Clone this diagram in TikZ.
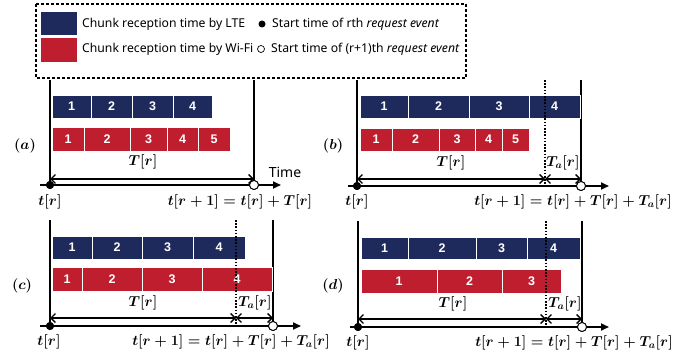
\documentclass[tikz,border=0pt]{standalone}
\usepackage[no-math]{fontspec}
\setmainfont{Noto Sans}
\newfontfamily\chunkfont{Liberation Sans}
\usetikzlibrary{arrows.meta}
\definecolor{ltecol}{HTML}{1F2A5C}
\definecolor{wificol}{HTML}{BE1E2D}
\newcommand\mychunk[7]{\node[chunkbox,#6,minimum width={(#3-#2)*1pt},minimum height={(#5-#4)*1pt}] (#1) at ({(#2+#3)/2},{(#4+#5)/2}) {#7};}
\begin{document}
\begin{tikzpicture}[x=1pt,y=-1pt,
  chunkbox/.style={draw=white,line width=0.7pt,inner sep=0pt,outer sep=0pt,text=white,font=\chunkfont\bfseries\fontsize{12.5}{14}\selectfont},
  lte/.style={fill=ltecol},
  wifi/.style={fill=wificol},
  vline/.style={line width=2.4pt},
  axisline/.style={line width=1.8pt,-{Triangle[length=8pt,width=7pt]}},
  dbl/.style={line width=1.3pt,{Straight Barb[length=4.5pt,width=9pt,line width=1.3pt]}-{Straight Barb[length=4.5pt,width=9pt,line width=1.3pt]}},
  dotline/.style={line width=1.6pt,dash pattern=on 1.6pt off 1.6pt},
  sdot/.style={circle,fill=black,inner sep=0pt,minimum size=8pt},
  edot/.style={circle,draw=black,fill=white,line width=0.9pt,inner sep=0pt,minimum size=9pt},
  mlab/.style={font=\boldmath\fontsize{14.2}{16}\selectfont,inner sep=0pt},
  legtext/.style={anchor=west,inner sep=0pt,font=\fontsize{12.2}{15}\selectfont}]
\useasboundingbox (0,0) rectangle (685,358);
% legend
\draw[line width=1.2pt,dash pattern=on 3pt off 2pt] (36,4) rectangle (466,78);
\node[fill=ltecol,minimum width=36pt,minimum height=23pt,inner sep=0pt] (lsw1) at (59,23.5) {};
\node[fill=wificol,minimum width=36pt,minimum height=24pt,inner sep=0pt] (lsw2) at (59,50) {};
\node[legtext] (lt1) at (82,24) {Chunk reception time by LTE};
\node[legtext] (lt2) at (82,49) {Chunk reception time by Wi-Fi};
\node[sdot,minimum size=7pt] (ld1) at (262,24) {};
\node[edot,minimum size=7pt,line width=0.7pt] (ld2) at (261,49) {};
\node[legtext] (lt3) at (272,24) {Start time of rth \textit{request event}};
\node[legtext] (lt4) at (271,49) {Start time of (r+1)th \textit{request event}};

% ===== panel (a)
\node[mlab] (la) at (25,146) {$(a)$};
\coordinate (aL) at (50,80); \coordinate (aR) at (254,80);
\node[sdot] (as) at (50,185) {}; \node[edot] (ae) at (254,185) {};
\coordinate (aax0) at (40,185); \coordinate (aax1) at (281,185);
\draw[vline] (aL) -- (as.center);
\draw[vline] (aR) -- (ae.center);
\foreach \a/\b/\n in {52/91/1,91/132/2,132/173/3,173/212/4}{\mychunk{ab\n}{\a}{\b}{95}{118}{lte}{\n}}
\foreach \a/\b/\n in {52/84/1,84/130/2,130/167/3,167/198/4,198/230/5}{\mychunk{aw\n}{\a}{\b}{127}{151}{wifi}{\n}}
\coordinate (ad0) at (50,179); \coordinate (ad1) at (254,179);
\draw[dbl] (ad0) -- (ad1);
\draw[axisline] (aax0) -- (aax1);
\node[sdot] at (as) {}; \node[edot] at (ae) {};
\node[mlab] (aT) at (143,162) {$T[r]$};
\node[inner sep=0pt,font=\fontsize{14}{16}\selectfont] (atime) at (285,172) {Time};
\node[mlab] (atr) at (50,202) {$t[r]$};
\node[mlab] (aeq) at (240,202) {$t[r+1]=t[r]+T[r]$};

% ===== panel (b)
\node[mlab] (lb) at (333,146) {$(b)$};
\coordinate (bL) at (357,80); \coordinate (bR) at (581,80); \coordinate (bD) at (545,80);
\node[sdot] (bs) at (357,186) {}; \node[edot] (be) at (581,186) {};
\coordinate (bDb) at (545,186);
\coordinate (bax0) at (348,186); \coordinate (bax1) at (609,186);
\draw[vline] (bL) -- (bs.center);
\draw[vline] (bR) -- (be.center);
\foreach \a/\b/\n in {360/408/1,408/469/2,469/529/3,529/580/4}{\mychunk{bb\n}{\a}{\b}{95}{118}{lte}{\n}}
\foreach \a/\b/\n in {360/392/1,392/439/2,439/475/3,475/502/4,502/529/5}{\mychunk{bw\n}{\a}{\b}{128}{151}{wifi}{\n}}
\draw[dotline] (bD) -- (bDb);
\coordinate (bd0) at (357,179); \coordinate (bd1) at (545,179); \coordinate (bd2) at (581,179);
\draw[dbl] (bd0) -- (bd1);
\draw[dbl] (bd1) -- (bd2);
\draw[axisline] (bax0) -- (bax1);
\node[sdot] at (bs) {}; \node[edot] at (be) {};
\node[mlab] (bT) at (451,163) {$T[r]$};
\node[mlab] (bTa) at (563,163) {$T_a[r]$};
\node[mlab] (btr) at (357,202) {$t[r]$};
\node[mlab] (beq) at (573,202) {$t[r+1]=t[r]+T[r]+T_a[r]$};

% ===== panel (c)
\node[mlab] (lc) at (22,286) {$(c)$};
\coordinate (cL) at (50,220); \coordinate (cR) at (273,220); \coordinate (cD) at (236,220);
\node[sdot] (cs) at (50,326) {}; \node[edot] (ce) at (273,326) {};
\coordinate (cDb) at (236,326);
\coordinate (cax0) at (40,326); \coordinate (cax1) at (301,326);
\draw[vline] (cL) -- (cs.center);
\draw[vline] (cR) -- (ce.center);
\foreach \a/\b/\n in {52/92/1,92/142/2,142/193/3,193/245/4}{\mychunk{cb\n}{\a}{\b}{236}{259}{lte}{\n}}
\foreach \a/\b/\n in {52/82/1,82/142/2,142/202/3,202/272/4}{\mychunk{cw\n}{\a}{\b}{267}{291}{wifi}{\n}}
\draw[dotline] (cD) -- (cDb);
\coordinate (cd0) at (50,318); \coordinate (cd1) at (236,318); \coordinate (cd2) at (273,318);
\draw[dbl] (cd0) -- (cd1);
\draw[dbl] (cd1) -- (cd2);
\draw[axisline] (cax0) -- (cax1);
\node[sdot] at (cs) {}; \node[edot] at (ce) {};
\node[mlab] (cT) at (143,303) {$T[r]$};
\node[mlab] (cTa) at (255,303) {$T_a[r]$};
\node[mlab] (ctr) at (49,342) {$t[r]$};
\node[mlab] (ceq) at (231,342) {$t[r+1]=t[r]+T[r]+T_a[r]$};

% ===== panel (d)
\node[mlab] (ld) at (333,286) {$(d)$};
\coordinate (dL) at (358,221); \coordinate (dR) at (582,221); \coordinate (dD) at (546,221);
\node[sdot] (ds) at (358,327) {}; \node[edot] (de) at (582,327) {};
\coordinate (dDb) at (546,327);
\coordinate (dax0) at (350,327); \coordinate (dax1) at (609,327);
\draw[vline] (dL) -- (ds.center);
\draw[vline] (dR) -- (de.center);
\foreach \a/\b/\n in {361/408/1,408/476/2,476/527/3,527/580/4}{\mychunk{db\n}{\a}{\b}{237}{259}{lte}{\n}}
\foreach \a/\b/\n in {361/437/1,437/502/2,502/561/3}{\mychunk{dw\n}{\a}{\b}{269}{293}{wifi}{\n}}
\draw[dotline] (dD) -- (dDb);
\coordinate (dd0) at (358,319); \coordinate (dd1) at (546,319); \coordinate (dd2) at (582,319);
\draw[dbl] (dd0) -- (dd1);
\draw[dbl] (dd1) -- (dd2);
\draw[axisline] (dax0) -- (dax1);
\node[sdot] at (ds) {}; \node[edot] at (de) {};
\node[mlab] (dT) at (453,304) {$T[r]$};
\node[mlab] (dTa) at (565,304) {$T_a[r]$};
\node[mlab] (dtr) at (358,343) {$t[r]$};
\node[mlab] (deq) at (574,343) {$t[r+1]=t[r]+T[r]+T_a[r]$};
\end{tikzpicture}
\end{document}
